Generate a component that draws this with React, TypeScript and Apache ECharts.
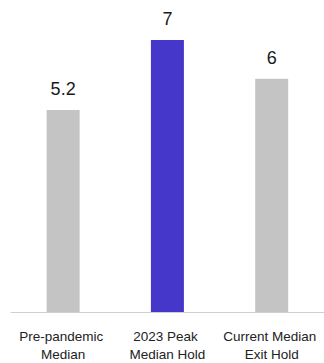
import React, { useEffect, useRef } from "react";
import * as echarts from "echarts";

const categories = ["Pre-pandemic Median", "2023 Peak Median Hold", "Current Median Exit Hold"];
const values = [5.2, 7, 6];
const barColors = ["#c4c4c4", "#4437c9", "#c4c4c4"];

export default function App() {
  const ref = useRef<HTMLDivElement>(null);
  useEffect(() => {
    if (!ref.current) return;
    const chart = echarts.init(ref.current, null, { renderer: "svg" });
    chart.setOption({
      animation: false,
      grid: { left: 11, right: -4, top: 40, bottom: 37 },
      xAxis: {
        type: "category",
        data: categories,
        axisTick: { show: false },
        axisLine: { lineStyle: { color: "#d0d0d0", width: 1 } },
        axisLabel: {
          interval: 0,
          margin: 15,
          width: 100,
          overflow: "break",
          color: "#222222",
          fontSize: 13.5,
          lineHeight: 18,
          fontFamily: "Liberation Sans, Arial, sans-serif",
        },
      },
      yAxis: { type: "value", min: 0, max: 7, show: false, splitLine: { show: false } },
      series: [
        {
          type: "bar",
          barWidth: 33,
          data: values.map((v, i) => ({ value: v, itemStyle: { color: barColors[i] } })),
          label: {
            show: true,
            position: "top",
            distance: 12,
            color: "#1a1a1a",
            fontSize: 18,
            fontFamily: "Liberation Sans, Arial, sans-serif",
          },
        },
      ],
    });
    return () => chart.dispose();
  }, []);
  return <div ref={ref} style={{ position: "absolute", left: 0, top: 0, width: 324, height: 363 }} />;
}
